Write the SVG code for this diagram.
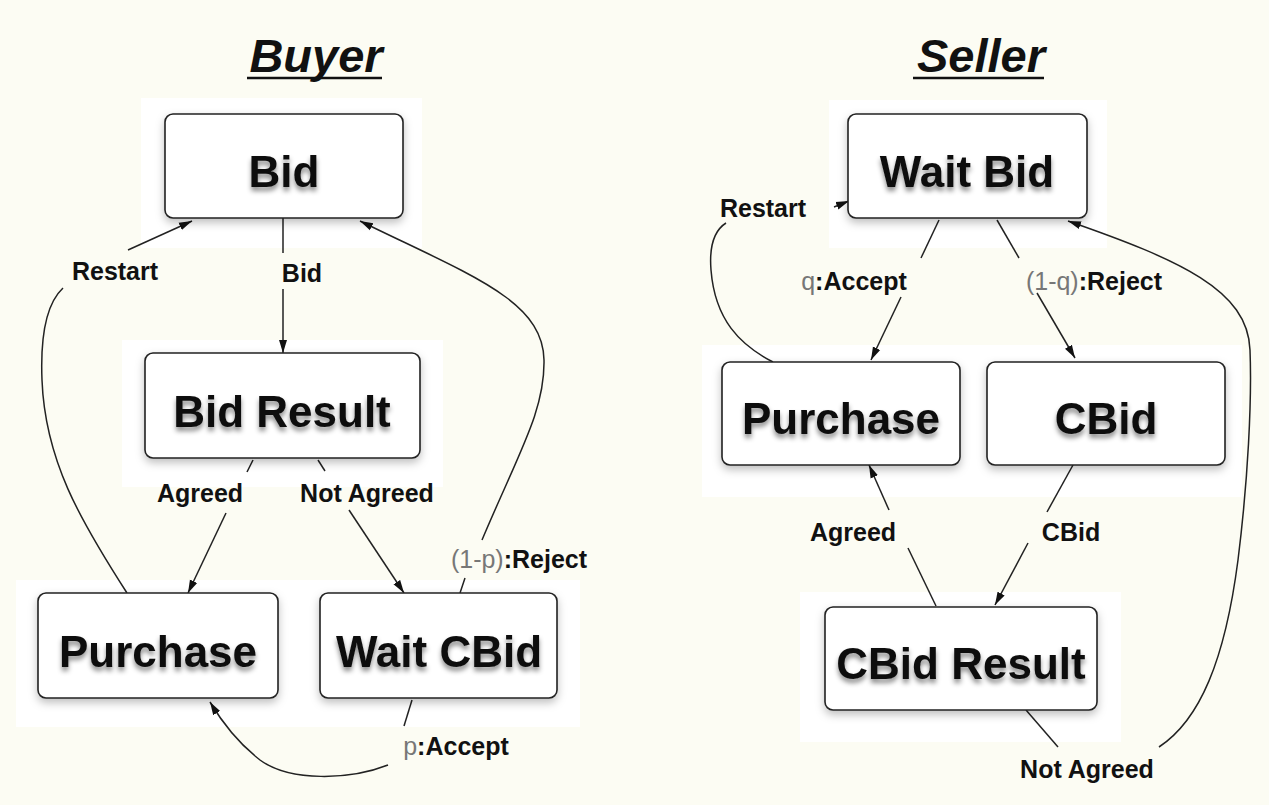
<svg xmlns="http://www.w3.org/2000/svg" width="1269" height="805" viewBox="0 0 1269 805">
<defs>
<style>
.halo{fill:#ffffff}
.box{fill:#ffffff;stroke:#222;stroke-width:1.6;filter:url(#bs)}
.nt{font-family:"Liberation Sans",Arial,sans-serif;font-size:44px;font-weight:bold;fill:#111;text-anchor:middle;filter:url(#ts)}
.title{font-family:"Liberation Sans",Arial,sans-serif;font-size:47px;font-weight:bold;font-style:italic;fill:#111;text-anchor:middle}
.lbl{font-family:"Liberation Sans",Arial,sans-serif;font-size:25px;font-weight:bold;fill:#111;text-anchor:middle}
.lt{font-weight:normal;fill:#777}
.edge{fill:none;stroke:#222;stroke-width:1.5}
</style>
<marker id="ah" markerWidth="14" markerHeight="10" refX="13" refY="5" orient="auto" markerUnits="userSpaceOnUse">
<path d="M0,1 L13,5 L0,9 Z" fill="#111"/>
</marker>
<filter id="bs" x="-10%" y="-10%" width="120%" height="130%">
<feDropShadow dx="0" dy="4" stdDeviation="4" flood-color="#000" flood-opacity="0.25"/>
</filter>
<filter id="ts" x="-10%" y="-20%" width="120%" height="160%">
<feDropShadow dx="0" dy="4" stdDeviation="2.5" flood-color="#000" flood-opacity="0.45"/>
</filter>
</defs>
<rect x="0" y="0" width="1269" height="805" fill="#fcfcf3"/>

<g id="titles">
<text class="title" x="316" y="72">Buyer</text>
<line x1="247" y1="78" x2="382" y2="78" stroke="#111" stroke-width="2.5"/>
<text class="title" x="981" y="72">Seller</text>
<line x1="913" y1="78" x2="1044" y2="78" stroke="#111" stroke-width="2.5"/>
</g>

<g id="halos">
<rect class="halo" x="141" y="98" width="281" height="150"/>
<rect class="halo" x="122" y="340" width="321" height="147"/>
<rect class="halo" x="16" y="580" width="564" height="147"/>
<rect class="halo" x="829" y="100" width="278" height="148"/>
<rect class="halo" x="702" y="345" width="540" height="152"/>
<rect class="halo" x="800" y="592" width="321" height="150"/>
</g>

<g id="connectors">
<!-- Buyer: Bid -> Bid Result -->
<path class="edge" d="M283,218 L283,253"/>
<path class="edge" d="M283,289 L283,353" marker-end="url(#ah)"/>
<!-- Bid Result -> Purchase (Agreed) -->
<path class="edge" d="M253,460 L247,472"/>
<path class="edge" d="M226,513 L188,593" marker-end="url(#ah)"/>
<!-- Bid Result -> Wait CBid (Not Agreed) -->
<path class="edge" d="M318,460 L325,471"/>
<path class="edge" d="M349,510 L404,593" marker-end="url(#ah)"/>
<!-- Wait CBid -> Bid ((1-p):Reject) -->
<path class="edge" d="M460,593 L465,578"/>
<path class="edge" d="M482,540 C520,450 545,410 544,360 C543,300 470,275 360,221" marker-end="url(#ah)"/>
<!-- Purchase -> Bid (Restart) -->
<path class="edge" d="M127,593 C80,520 45,460 42,380 C40,330 48,302 63,288"/>
<path class="edge" d="M128,250 L192,221" marker-end="url(#ah)"/>
<!-- Wait CBid -> Purchase (p:Accept) -->
<path class="edge" d="M412,700 L404,726"/>
<path class="edge" d="M388,765 C350,780 290,782 260,760 C238,743 222,722 210,702" marker-end="url(#ah)"/>

<!-- Seller: Wait Bid -> Purchase (q:Accept) -->
<path class="edge" d="M939,220 L921,258"/>
<path class="edge" d="M901,297 L871,360" marker-end="url(#ah)"/>
<!-- Wait Bid -> CBid ((1-q):Reject) -->
<path class="edge" d="M997,220 L1019,258"/>
<path class="edge" d="M1037,293 L1075,358" marker-end="url(#ah)"/>
<!-- Purchase -> Wait Bid (Restart) -->
<path class="edge" d="M773,362 C740,345 715,320 711,270 C709,245 715,230 726,223"/>
<path class="edge" d="M834,207 L849,201" marker-end="url(#ah)"/>
<!-- CBid -> CBid Result -->
<path class="edge" d="M1073,465 L1047,512"/>
<path class="edge" d="M1028,543 L995,605" marker-end="url(#ah)"/>
<!-- CBid Result -> Purchase (Agreed) -->
<path class="edge" d="M936,606 L908,548"/>
<path class="edge" d="M889,510 L869,465" marker-end="url(#ah)"/>
<!-- CBid Result -> Wait Bid (Not Agreed) -->
<path class="edge" d="M1026,710 L1058,747"/>
<path class="edge" d="M1159,747 C1200,720 1225,660 1238,560 C1248,480 1252,400 1250,350 C1248,290 1180,260 1068,221" marker-end="url(#ah)"/>
</g>

<g id="labels">
<text class="lbl" x="115" y="280">Restart</text>
<text class="lbl" x="302" y="282">Bid</text>
<text class="lbl" x="200" y="502">Agreed</text>
<text class="lbl" x="367" y="502">Not Agreed</text>
<text class="lbl" x="519" y="568"><tspan class="lt">(1-p)</tspan>:Reject</text>
<text class="lbl" x="456" y="755"><tspan class="lt">p</tspan>:Accept</text>
<text class="lbl" x="763" y="217">Restart</text>
<text class="lbl" x="854" y="290"><tspan class="lt">q</tspan>:Accept</text>
<text class="lbl" x="1094" y="290"><tspan class="lt">(1-q)</tspan>:Reject</text>
<text class="lbl" x="853" y="541">Agreed</text>
<text class="lbl" x="1071" y="541">CBid</text>
<text class="lbl" x="1087" y="778">Not Agreed</text>
</g>

<g id="node-bid"><rect class="box" x="165" y="114" width="238" height="104" rx="8"/><text class="nt" x="284" y="187">Bid</text></g>
<g id="node-bid-result"><rect class="box" x="145" y="353" width="275" height="105" rx="8"/><text class="nt" x="282" y="427">Bid Result</text></g>
<g id="node-purchase-buyer"><rect class="box" x="38" y="593" width="240" height="105" rx="8"/><text class="nt" x="158" y="667">Purchase</text></g>
<g id="node-wait-cbid"><rect class="box" x="320" y="593" width="237" height="105" rx="8"/><text class="nt" x="439" y="667">Wait CBid</text></g>
<g id="node-wait-bid"><rect class="box" x="848" y="114" width="239" height="104" rx="8"/><text class="nt" x="967" y="187">Wait Bid</text></g>
<g id="node-purchase-seller"><rect class="box" x="722" y="362" width="238" height="103" rx="8"/><text class="nt" x="841" y="434">Purchase</text></g>
<g id="node-cbid"><rect class="box" x="987" y="362" width="238" height="103" rx="8"/><text class="nt" x="1106" y="434">CBid</text></g>
<g id="node-cbid-result"><rect class="box" x="825" y="607" width="272" height="103" rx="8"/><text class="nt" x="961" y="679">CBid Result</text></g>
</svg>
